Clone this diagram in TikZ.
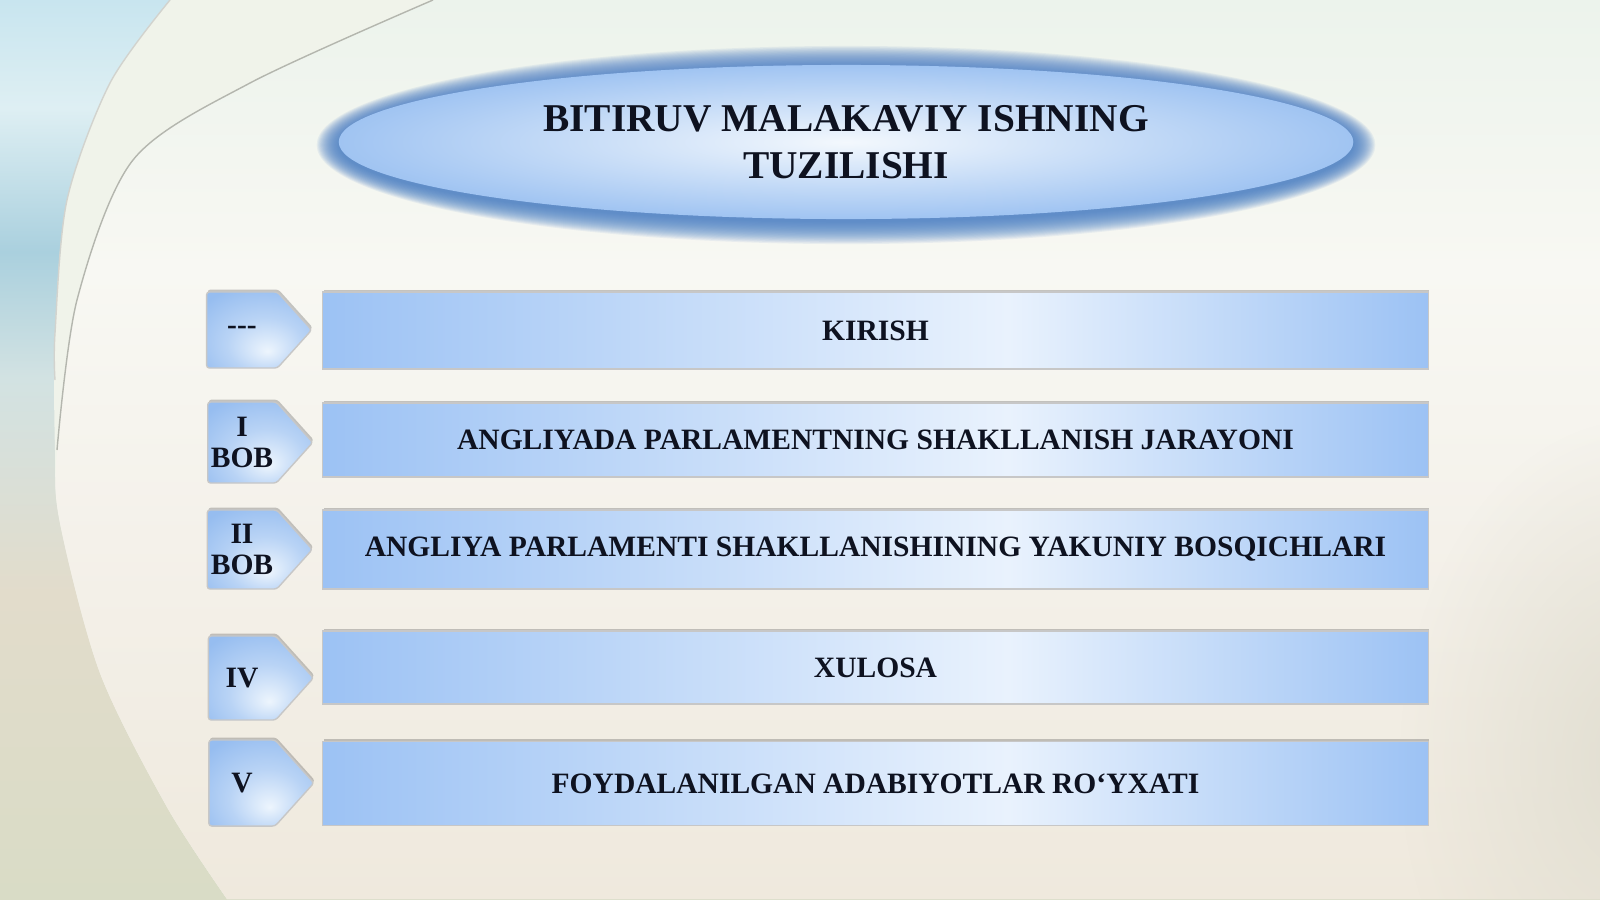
\documentclass[tikz,border=0pt]{standalone}
\usepackage{fontspec}
\setmainfont{Liberation Serif}
\usetikzlibrary{shapes.geometric,shapes.symbols,shadows,fadings}

\definecolor{barDark}{HTML}{9CC2F4}
\definecolor{barLight}{HTML}{E9F2FD}
\definecolor{tagDark}{HTML}{96BDF0}
\definecolor{tagLight}{HTML}{EDF5FD}
\definecolor{glowBlue}{HTML}{4C80C6}
\definecolor{ovalOut}{HTML}{A0C4F2}
\definecolor{ovalIn}{HTML}{F3F8FD}
\definecolor{inkBlue}{HTML}{0E1220}
\definecolor{curveGray}{HTML}{B4B6AE}
\definecolor{creamLight}{HTML}{F0F3EA}
\definecolor{sideGray}{HTML}{E1DED1}

\pgfdeclarehorizontalshading{barshade}{100bp}{color(0bp)=(barDark); color(25bp)=(barDark); color(56bp)=(barLight); color(75bp)=(barDark); color(100bp)=(barDark)}
\pgfdeclareradialshading{tagshade}{\pgfpoint{4bp}{-14bp}}{color(0bp)=(tagLight); color(18bp)=(tagDark!60!tagLight); color(36bp)=(tagDark); color(60bp)=(tagDark)}
\pgfdeclareverticalshading{leftshade}{100bp}{color(0bp)=(rgb,255:red,217;green,220;blue,198); color(25bp)=(rgb,255:red,217;green,220;blue,198); color(42bp)=(rgb,255:red,226;green,220;blue,203); color(54bp)=(rgb,255:red,210;green,226;blue,226); color(61bp)=(rgb,255:red,170;green,208;blue,222); color(69bp)=(rgb,255:red,222;green,239;blue,243); color(75bp)=(rgb,255:red,200;green,229;blue,239); color(100bp)=(rgb,255:red,200;green,229;blue,239)}
\pgfdeclareverticalshading{mainshade}{100bp}{color(0bp)=(rgb,255:red,239;green,233;blue,221); color(25bp)=(rgb,255:red,239;green,233;blue,221); color(45bp)=(rgb,255:red,244;green,241;blue,234); color(60bp)=(rgb,255:red,248;green,248;blue,243); color(75bp)=(rgb,255:red,236;green,243;blue,236); color(100bp)=(rgb,255:red,236;green,243;blue,236)}
\tikzfading[name=sidefade, inner color=transparent!0, outer color=transparent!100]

\tikzset{
  bar/.style={draw=black!22, line width=0.4pt, shading=barshade, minimum width=11.05cm,
    font=\fontsize{8.4}{10}\selectfont\bfseries, text=inkBlue,
    drop shadow={shadow xshift=0.3pt, shadow yshift=0.7pt, fill=black!70, opacity=0.3}},
  tag/.style={signal, signal to=east, signal pointer angle=96, draw=black!22, line width=0.4pt,
    shading=tagshade, minimum width=1.05cm, inner sep=0pt, align=center, rounded corners=0.8pt,
    font=\fontsize{8.4}{9}\selectfont\bfseries, text=inkBlue,
    drop shadow={shadow xshift=0.3pt, shadow yshift=0.7pt, fill=black!70, opacity=0.3}},
}

\begin{document}
\begin{tikzpicture}[x=0.01cm, y=-0.01cm]
\useasboundingbox (0,0) rectangle (1600,899);

% background
\shade[shading=leftshade] (0,0) rectangle (1600,899);
\fill[creamLight] plot[smooth] coordinates {(170,0) (110,83) (67,200) (55,333) (55,450) (60,523) (100,673) (167,807) (227,899)} -- (1600,899) -- (1600,0) -- cycle;
\shade[shading=mainshade] plot[smooth] coordinates {(433,0) (250,83) (133,160) (77,300) (57,450) (60,523) (100,673) (167,807) (227,899)} -- (1600,899) -- (1600,0) -- cycle;
\begin{scope}
  \clip (0,0) rectangle (1600,899);
  \fill[sideGray, path fading=sidefade] (1640,760) ellipse [x radius=2.4cm, y radius=3.4cm];
\end{scope}
\draw[curveGray!60, line width=0.4pt] plot[smooth] coordinates {(170,0) (110,83) (67,200) (55,333) (55,380)};
\draw[curveGray, line width=0.4pt] plot[smooth] coordinates {(433,0) (250,83) (133,160) (77,300) (57,450)};

% glow round the title
\foreach \k in {20,19,...,0}
  \fill[glowBlue, opacity=0.085] (846,145) ellipse [x radius={5.07cm+\k*0.011cm}, y radius={0.77cm+\k*0.011cm}];

\node (title) [ellipse, minimum width=10.14cm, minimum height=1.54cm, shading=radial,
  inner color=ovalIn, outer color=ovalOut, align=center, text=inkBlue,
  font=\fontsize{11.2}{13.4}\selectfont\bfseries] at (846,142) {BITIRUV MALAKAVIY ISHNING\\TUZILISHI};

% chapters
\node (kirish) [bar, minimum height=0.77cm] at (875.5,330.5) {KIRISH};
\node (bob1) [bar, minimum height=0.74cm] at (875.5,440) {ANGLIYADA PARLAMENTNING SHAKLLANISH JARAYONI};
\node (bob2) [bar, minimum height=0.79cm] at (875.5,549.5) {ANGLIYA PARLAMENTI SHAKLLANISHINING YAKUNIY BOSQICHLARI};
\node (xulosa) [bar, minimum height=0.73cm] at (875.5,667.5) {XULOSA};
\node (adabiyot) [bar, minimum height=0.84cm] at (875.5,783.5) {FOYDALANILGAN ADABIYOTLAR RO‘YXATI};

\node (kirishTag) [tag, minimum height=0.76cm] at (242,330) {-{}-{}-};
\node (bob1Tag) [tag, minimum height=0.81cm] at (242,442.5) {I\\BOB};
\node (bob2Tag) [tag, minimum height=0.79cm] at (242,549.5) {II\\BOB};
\node (xulosaTag) [tag, minimum height=0.84cm] at (242,678) {IV};
\node (adabiyotTag) [tag, minimum height=0.86cm] at (242,783) {V};
\end{tikzpicture}
\end{document}
